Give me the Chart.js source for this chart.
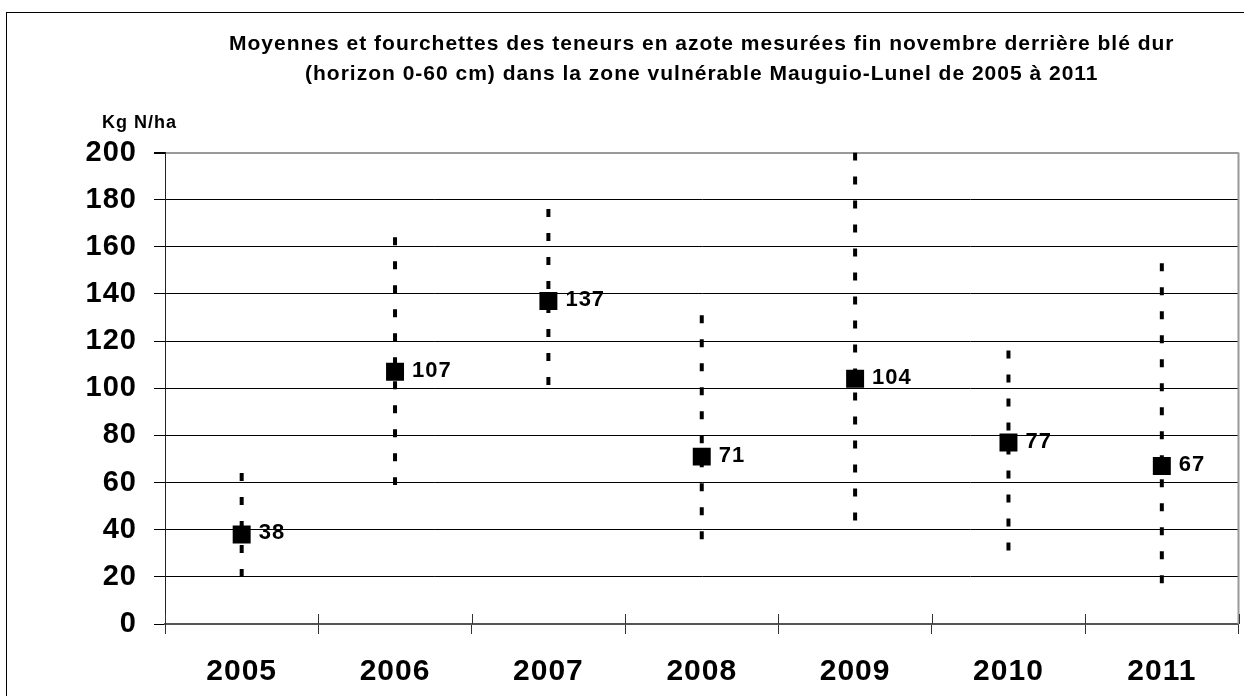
<!DOCTYPE html>
<html>
<head>
<meta charset="utf-8">
<script src="https://cdn.jsdelivr.net/npm/chart.js@4"></script>
<style>
  html, body { margin: 0; padding: 0; background: #fff; overflow: hidden; }
  #frame { position: absolute; left: 6px; top: 12px; width: 1300px; height: 800px; border: 1px solid #000; }
  #wrap { position: absolute; left: 0; top: 0; width: 1244px; height: 696px; }
</style>
</head>
<body>
<div id="frame"></div>
<div id="wrap"><canvas id="chart" width="1244" height="696"></canvas></div>
<script>
// data
const years = ["2005", "2006", "2007", "2008", "2009", "2010", "2011"];
const meanValues = [38, 107, 137, 71, 104, 77, 67];
const maxValues = [64, 164, 176, 131, 200, 116, 153];
const minValues = [19, 59, 101, 36, 43, 31, 17];
const yMax = 200;
const yStep = 20;
const titleLines = [
    "Moyennes et fourchettes des teneurs en azote mesurées fin novembre derrière blé dur",
    "(horizon 0-60 cm) dans la zone vulnérable Mauguio-Lunel de 2005 à 2011"
];
const unitLabel = "Kg N/ha";

const FONT = "'Liberation Sans', Arial, sans-serif";

// the original text is drawn with a little letter spacing
const spacingPlugin = {
    id: "spacing",
    beforeDraw(chart) { chart.ctx.letterSpacing = "1px"; },
    afterDraw(chart) { chart.ctx.letterSpacing = "0px"; }
};

// grey right border of the plot area + x tick marks crossing the axis
const framePlugin = {
    id: "plotFrame",
    beforeDatasetsDraw(chart) {
        const { ctx, chartArea } = chart;
        const xs = chart.scales.x;
        ctx.save();
        ctx.strokeStyle = "#999";
        ctx.lineWidth = 2;
        ctx.beginPath();
        ctx.moveTo(chartArea.right, chartArea.top);
        ctx.lineTo(chartArea.right, chartArea.bottom);
        ctx.stroke();

        ctx.strokeStyle = "#333";
        ctx.lineWidth = 1;
        ctx.beginPath();
        const step = xs.width / years.length;
        for (let i = 0; i <= years.length; i++) {
            const x = Math.round(xs.left + i * step) + 0.5;
            ctx.moveTo(x, chartArea.bottom - 10);
            ctx.lineTo(x, chartArea.bottom);
        }
        ctx.stroke();
        ctx.restore();
    }
};

// mean value labels and unit label
const labelPlugin = {
    id: "valueLabels",
    afterDatasetsDraw(chart) {
        const { ctx, chartArea } = chart;
        const meta = chart.getDatasetMeta(0);
        ctx.save();
        ctx.fillStyle = "#000";
        ctx.font = "bold 22px " + FONT;
        ctx.textAlign = "left";
        ctx.textBaseline = "middle";
        meta.data.forEach((pt, i) => {
            ctx.fillText(String(meanValues[i]), pt.x + 17, pt.y - 1);
        });
        ctx.font = "bold 18px " + FONT;
        ctx.textBaseline = "alphabetic";
        ctx.fillText(unitLabel, chartArea.left - 63, chartArea.top - 24.5);
        ctx.restore();
    }
};

const rangeDatasets = years.map((year, i) => ({
    type: "line",
    data: [{ x: year, y: maxValues[i] }, { x: year, y: minValues[i] }],
    borderColor: "#000",
    borderWidth: 4,
    borderDash: [8, 16],
    borderCapStyle: "butt",
    pointRadius: 0,
    pointHoverRadius: 0,
    fill: false
}));

const ctx = document.getElementById("chart").getContext("2d");
new Chart(ctx, {
    type: "line",
    data: {
        labels: years,
        datasets: [{
            label: "Moyenne",
            data: meanValues,
            showLine: false,
            pointStyle: "rect",
            pointRadius: 12.7,
            pointHoverRadius: 12.7,
            pointBackgroundColor: "#000",
            pointBorderColor: "#000",
            pointBorderWidth: 0
        }, ...rangeDatasets]
    },
    options: {
        responsive: false,
        animation: false,
        events: [],
        layout: { autoPadding: false, padding: { left: 0, right: 5.5, top: 0, bottom: 0 } },
        plugins: {
            legend: { display: false },
            tooltip: { enabled: false },
            title: {
                display: true,
                text: titleLines,
                fullSize: false,
                color: "#000",
                font: { family: FONT, size: 21, weight: "bold", lineHeight: 1.4 },
                padding: { top: 29.8, bottom: 63.9 }
            }
        },
        scales: {
            x: {
                type: "category",
                offset: true,
                grid: {
                    offset: true,
                    drawOnChartArea: false,
                    drawTicks: true,
                    tickLength: 10,
                    color: "#333"
                },
                border: { display: true, color: "#555", width: 2 },
                ticks: {
                    color: "#000",
                    padding: 20,
                    font: { family: FONT, size: 30, weight: "bold" }
                },
                afterFit(scale) {
                    scale.height = 72;
                    scale.paddingLeft = 0;
                    scale.paddingRight = 0;
                }
            },
            y: {
                min: 0,
                max: yMax,
                grid: {
                    color: (c) => c.tick.value === yMax ? "#999" : (c.tick.value === 0 ? "#555" : "#000"),
                    lineWidth: (c) => c.tick.value === yMax ? 2 : 1,
                    tickColor: "#000",
                    tickLength: 11
                },
                border: { display: true, color: "#222", width: 1 },
                ticks: {
                    stepSize: yStep,
                    color: "#000",
                    padding: 17,
                    font: { family: FONT, size: 29, weight: "bold" }
                },
                afterFit(scale) { scale.width = 165; }
            }
        }
    },
    plugins: [spacingPlugin, framePlugin, labelPlugin]
});
</script>
</body>
</html>
